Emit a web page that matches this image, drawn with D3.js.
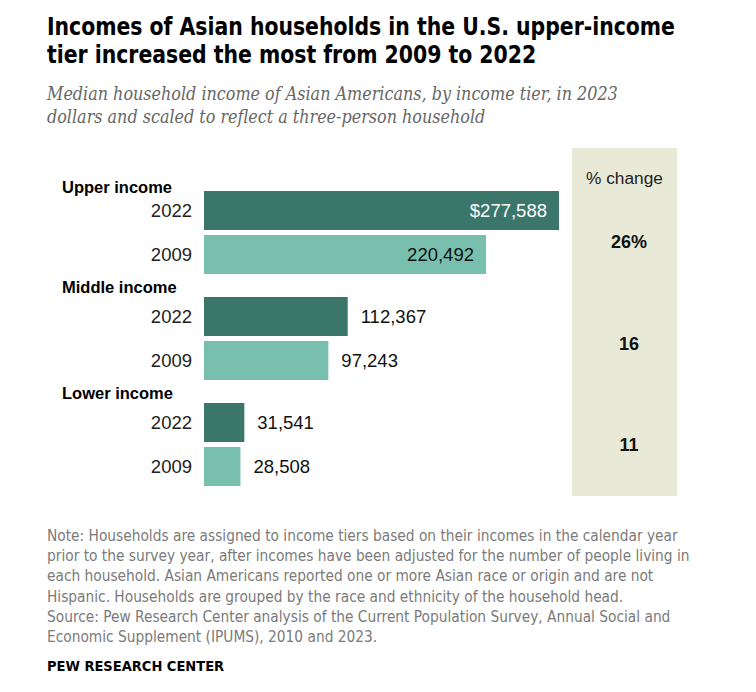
<!DOCTYPE html>
<html>
<head>
<meta charset="utf-8">
<script src="https://cdn.jsdelivr.net/npm/d3@7"></script>
<style>
	body { margin: 0; background: #fff; }
	svg { display: block; }
	.title { font-family: "DejaVu Sans Condensed", "DejaVu Sans", sans-serif; font-stretch: condensed; font-weight: bold; font-size: 24px; fill: #000; }
	.subtitle { font-family: "DejaVu Serif", serif; font-stretch: condensed; font-style: italic; font-size: 17.8px; fill: #666; }
	.tier { font-family: "Liberation Sans", Arial, sans-serif; font-weight: bold; font-size: 16.5px; fill: #000; }
	.year { font-family: "Liberation Sans", Arial, sans-serif; font-size: 18.5px; fill: #222; }
	.value { font-family: "Liberation Sans", Arial, sans-serif; font-size: 18.5px; }
	.pct-head { font-family: "Liberation Sans", Arial, sans-serif; font-size: 17.3px; fill: #222; }
	.pct { font-family: "Liberation Sans", Arial, sans-serif; font-weight: bold; font-size: 18px; fill: #111; }
	.note { font-family: "DejaVu Sans Condensed", "DejaVu Sans", sans-serif; font-stretch: condensed; font-size: 15.3px; fill: #7a7a7a; }
	.brand { font-family: "DejaVu Sans Condensed", "DejaVu Sans", sans-serif; font-stretch: condensed; font-weight: bold; font-size: 14.5px; fill: #000; }
</style>
</head>
<body>
<div id="chart"></div>
<script>
// data
const tiers = ['Upper income', 'Middle income', 'Lower income'];
const years = ['2022', '2009'];
const income2022 = [277588, 112367, 31541];
const income2009 = [220492, 97243, 28508];
const pctChange = ['26%', '16', '11'];

const titleLines = [
	'Incomes of Asian households in the U.S. upper-income',
	'tier increased the most from 2009 to 2022'
];
const subtitleLines = [
	'Median household income of Asian Americans, by income tier, in 2023',
	'dollars and scaled to reflect a three-person household'
];
const noteLines = [
	'Note: Households are assigned to income tiers based on their incomes in the calendar year',
	'prior to the survey year, after incomes have been adjusted for the number of people living in',
	'each household. Asian Americans reported one or more Asian race or origin and are not',
	'Hispanic. Households are grouped by the race and ethnicity of the household head.',
	'Source: Pew Research Center analysis of the Current Population Survey, Annual Social and',
	'Economic Supplement (IPUMS), 2010 and 2023.'
];

const width = 756;
const height = 692;
const left = 47;
const colours = { '2022': '#3b766a', '2009': '#79bfae' };

const rows = [];
tiers.forEach((t, i) => {
	rows.push({ tier: t, year: '2022', value: income2022[i] });
	rows.push({ tier: t, year: '2009', value: income2009[i] });
});

const svg = d3.select('#chart')
	.append('svg')
	.attr('width', width)
	.attr('height', height);

// header - squeeze the title a little, the original face is narrower
svg.append('g')
	.selectAll('text')
	.data(titleLines)
	.join('text')
	.attr('class', 'title')
	.attr('x', left)
	.attr('y', (d, i) => 35 + i * 28)
	.text(d => d)
	.each(function() {
		const len = this.getComputedTextLength();
		d3.select(this)
			.attr('textLength', len * 0.945)
			.attr('lengthAdjust', 'spacingAndGlyphs');
	});

svg.append('g')
	.selectAll('text')
	.data(subtitleLines)
	.join('text')
	.attr('class', 'subtitle')
	.attr('x', left)
	.attr('y', (d, i) => 100 + i * 23)
	.text(d => d);

// scales
const x = d3.scaleLinear()
	.domain([0, d3.max(income2022)])
	.range([204, 559]);

const yGroup = d3.scaleBand()
	.domain(tiers)
	.range([191, 486])
	.paddingInner(0.217);

const yYear = d3.scaleBand()
	.domain(years)
	.range([0, yGroup.bandwidth()])
	.paddingInner(0.114);

const yPct = d3.scalePoint()
	.domain(tiers)
	.range([242, 445]);

// % change panel
svg.append('rect')
	.attr('x', 572)
	.attr('y', 148)
	.attr('width', 105)
	.attr('height', 348)
	.attr('fill', '#e9e9d8');

svg.append('text')
	.attr('class', 'pct-head')
	.attr('x', 624.5)
	.attr('y', 178)
	.attr('dy', '0.35em')
	.attr('text-anchor', 'middle')
	.text('% change');

svg.append('g')
	.selectAll('text')
	.data(tiers)
	.join('text')
	.attr('class', 'pct')
	.attr('x', 629)
	.attr('y', d => yPct(d))
	.attr('dy', '0.35em')
	.attr('text-anchor', 'middle')
	.text((d, i) => pctChange[i]);

// tier labels
svg.append('g')
	.selectAll('text')
	.data(tiers)
	.join('text')
	.attr('class', 'tier')
	.attr('x', 62)
	.attr('y', (d, i) => i === 0 ? yGroup(d) + 2 : yGroup(d) - 4)
	.text(d => d);

// bars
const barY = d => yGroup(d.tier) + yYear(d.year);

svg.append('g')
	.selectAll('rect')
	.data(rows)
	.join('rect')
	.attr('x', x(0))
	.attr('y', barY)
	.attr('width', d => x(d.value) - x(0))
	.attr('height', yYear.bandwidth())
	.attr('fill', d => colours[d.year]);

// year labels
svg.append('g')
	.selectAll('text')
	.data(rows)
	.join('text')
	.attr('class', 'year')
	.attr('x', 192)
	.attr('y', d => barY(d) + yYear.bandwidth() / 2)
	.attr('dy', '0.35em')
	.attr('text-anchor', 'end')
	.text(d => d.year);

// value labels: inside the long upper bars, outside the rest
const inside = d => d.value > 150000;
svg.append('g')
	.selectAll('text')
	.data(rows)
	.join('text')
	.attr('class', 'value')
	.attr('x', d => inside(d) ? x(d.value) - 12 : x(d.value) + 13)
	.attr('y', d => barY(d) + yYear.bandwidth() / 2)
	.attr('dy', '0.35em')
	.attr('text-anchor', d => inside(d) ? 'end' : 'start')
	.attr('fill', d => inside(d) && d.year === '2022' ? '#fff' : '#111')
	.text((d, i) => (i === 0 ? '$' : '') + d3.format(',')(d.value));

// footer
svg.append('g')
	.selectAll('text')
	.data(noteLines)
	.join('text')
	.attr('class', 'note')
	.attr('x', left)
	.attr('y', (d, i) => 541 + i * 20.2)
	.text(d => d);

svg.append('text')
	.attr('class', 'brand')
	.attr('x', left)
	.attr('y', 671)
	.text('PEW RESEARCH CENTER');
</script>
</body>
</html>
